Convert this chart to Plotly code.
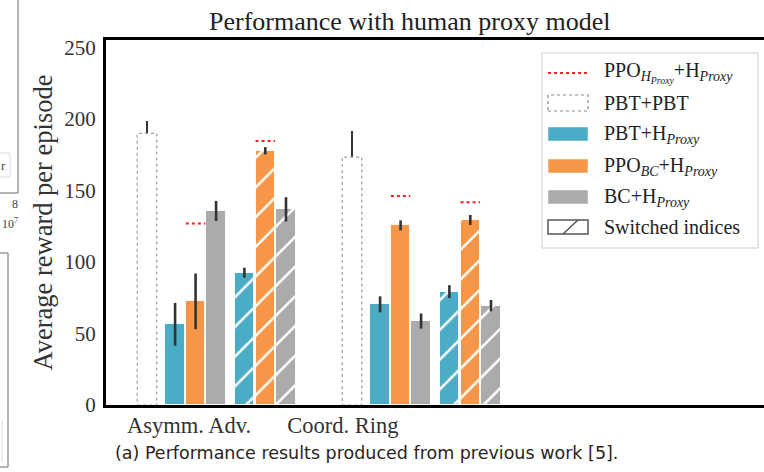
import plotly.graph_objects as go

# ---------------- data ----------------
groups = ["Asymm. Adv.", "Coord. Ring"]
pbt_pbt = [190.0, 173.4]
pbt_pbt_err = [8.5, 18.0]
pbt_h = [56.4, 70.4]
pbt_h_err = [15.0, 5.6]
ppo_bc_h = [72.5, 125.6]
ppo_bc_h_err = [19.5, 3.5]
bc_h = [135.7, 58.7]
bc_h_err = [7.0, 5.3]
pbt_h_sw = [92.5, 79.3]
pbt_h_sw_err = [3.5, 4.5]
ppo_bc_h_sw = [177.8, 129.4]
ppo_bc_h_sw_err = [2.5, 3.5]
bc_h_sw = [136.8, 69.5]
bc_h_sw_err = [8.5, 4.0]
ppo_hproxy = [127.0, 146.2]
ppo_hproxy_sw = [184.6, 141.7]
yticks = [0, 50, 100, 150, 200, 250]

# ---------------- styling / layout ----------------
W, H = 764, 472
L, R, T, B = 106, 764, 40, 405
BLUE, ORANGE, GRAY = "#4BACC6", "#F79646", "#ABABAB"
SERIF = "Liberation Serif"
TXT = "#333333"
BW = 0.95
GROUP_STEP = 10.0
GROUP_START = 2.0
OFF = {"pbt": 0.0, "blue": 1.37, "orange": 2.37, "gray": 3.37,
       "sblue": 4.75, "sorange": 5.77, "sgray": 6.78}


def pos(key):
    return [GROUP_START + i * GROUP_STEP + OFF[key] for i in range(len(groups))]


def px(xp):
    return (xp - L) / (R - L)


def py(yp):
    return (B - yp) / (B - T)


fig = go.Figure()

# PBT+PBT dotted outline bars
ox, oy = [], []
for x0, v in zip(pos("pbt"), pbt_pbt):
    ox += [x0 - BW / 2, x0 + BW / 2, x0 + BW / 2, x0 - BW / 2, x0 - BW / 2, None]
    oy += [0, 0, v, v, 0, None]
fig.add_trace(go.Scatter(x=ox, y=oy, mode="lines", fill="toself", fillcolor="white",
                         line=dict(color="#a0a0a0", width=1.2, dash="dot"),
                         showlegend=False, hoverinfo="skip"))
fig.add_trace(go.Bar(x=pos("pbt"), y=pbt_pbt, width=BW,
                     marker=dict(color="rgba(0,0,0,0)", line=dict(width=0)),
                     error_y=dict(type="data", array=pbt_pbt_err, color="#333", thickness=2.6, width=0),
                     showlegend=False))

series = [
    ("blue", pbt_h, pbt_h_err, BLUE, False),
    ("orange", ppo_bc_h, ppo_bc_h_err, ORANGE, False),
    ("gray", bc_h, bc_h_err, GRAY, False),
    ("sblue", pbt_h_sw, pbt_h_sw_err, BLUE, True),
    ("sorange", ppo_bc_h_sw, ppo_bc_h_sw_err, ORANGE, True),
    ("sgray", bc_h_sw, bc_h_sw_err, GRAY, True),
]
for key, vals, errs, col, hatch in series:
    marker = dict(color=col, line=dict(color="rgba(255,255,255,0.9)", width=1))
    if hatch:
        marker["pattern"] = dict(shape="/", bgcolor=col, fgcolor="white", size=21,
                                 solidity=0.12, fillmode="replace")
    fig.add_trace(go.Bar(x=pos(key), y=vals, width=BW, marker=marker,
                         error_y=dict(type="data", array=errs, color="#333", thickness=2.6, width=0),
                         showlegend=False))

# red dotted reference lines (PPO_HProxy + HProxy)
rx, ry = [], []
for xs, vals in ((pos("orange"), ppo_hproxy), (pos("sorange"), ppo_hproxy_sw)):
    for x0, v in zip(xs, vals):
        rx += [x0 - BW / 2, x0 + BW / 2, None]
        ry += [v, v, None]
fig.add_trace(go.Scatter(x=rx, y=ry, mode="lines",
                         line=dict(color="#FF2020", width=2, dash="dot"),
                         showlegend=False, hoverinfo="skip"))

x_span = (R - L) / 20.5
fig.update_layout(
    width=W, height=H,
    margin=dict(l=L, r=W - R, t=T, b=H - B),
    plot_bgcolor="white", paper_bgcolor="white",
    bargap=0, barmode="overlay",
    showlegend=False,
    xaxis=dict(range=[0, x_span], showgrid=False, zeroline=False,
               showline=True, linecolor="black", linewidth=3, mirror=True,
               tickmode="array", tickvals=[4.05, 11.56], ticktext=groups,
               ticks="", ticklabelstandoff=-2,
               tickfont=dict(family=SERIF, size=22.5, color=TXT)),
    yaxis=dict(range=[0, (B - T) / 1.43], showgrid=False, zeroline=False,
               showline=True, linecolor="black", linewidth=3, mirror=False,
               tickmode="array", tickvals=yticks, ticks="", ticklabelstandoff=3,
               tickfont=dict(family=SERIF, size=21, color=TXT),
               title=dict(text="Average reward per episode", standoff=5,
                          font=dict(family=SERIF, size=26.5, color=TXT))),
)

ann = []
shapes = []

# title
ann.append(dict(text="Performance with human proxy model", xref="paper", yref="paper",
                x=px(409), y=py(22), xanchor="center", yanchor="middle", showarrow=False,
                font=dict(family=SERIF, size=26, color="#222")))
# caption
ann.append(dict(text="(a) Performance results produced from previous work [5].",
                xref="paper", yref="paper", x=px(366), y=py(453), xanchor="center",
                yanchor="middle", showarrow=False,
                font=dict(family="DejaVu Sans", size=17.5, color="#2a2420")))

# legend box
shapes.append(dict(type="rect", xref="paper", yref="paper", x0=px(542), x1=px(758),
                   y0=py(248), y1=py(53), line=dict(color="#cfcfcf", width=1),
                   fillcolor="rgba(255,255,255,0.9)", layer="above"))
rows = [73, 103, 134, 166, 197, 227]
sx0, sx1 = 548, 588
# row 0: red dotted line
shapes.append(dict(type="line", xref="paper", yref="paper", x0=px(sx0), x1=px(sx1),
                   y0=py(rows[0]), y1=py(rows[0]), line=dict(color="#FF2020", width=2, dash="dot"),
                   layer="above"))
# row 1: dotted rect
shapes.append(dict(type="rect", xref="paper", yref="paper", x0=px(sx0), x1=px(sx1),
                   y0=py(rows[1] + 8), y1=py(rows[1] - 8), line=dict(color="#8a8a8a", width=1.2, dash="dot"),
                   fillcolor="white", layer="above"))
for r, col in ((rows[2], BLUE), (rows[3], ORANGE), (rows[4], GRAY)):
    shapes.append(dict(type="rect", xref="paper", yref="paper", x0=px(sx0), x1=px(sx1),
                       y0=py(r + 7), y1=py(r - 7), line=dict(color="white", width=0.5),
                       fillcolor=col, layer="above"))
# row 5: hatch swatch
shapes.append(dict(type="rect", xref="paper", yref="paper", x0=px(sx0), x1=px(sx1),
                   y0=py(rows[5] + 7), y1=py(rows[5] - 7), line=dict(color="#555", width=1.5),
                   fillcolor="white", layer="above"))
shapes.append(dict(type="line", xref="paper", yref="paper", x0=px(563), x1=px(578),
                   y0=py(rows[5] + 7), y1=py(rows[5] - 7), line=dict(color="#555", width=1.5),
                   layer="above"))

labels = [
    "PPO<sub><i>H</i><sub><i>Proxy</i></sub></sub>+H<sub><i>Proxy</i></sub>",
    "PBT+PBT",
    "PBT+H<sub><i>Proxy</i></sub>",
    "PPO<sub><i>BC</i></sub>+H<sub><i>Proxy</i></sub>",
    "BC+H<sub><i>Proxy</i></sub>",
    "Switched indices",
]
for r, t in zip(rows, labels):
    ann.append(dict(text=t, xref="paper", yref="paper", x=px(602), y=py(r),
                    xanchor="left", yanchor="middle", showarrow=False,
                    font=dict(family=SERIF, size=20, color="#222")))

# fragments of the neighbouring figure at the left edge
frag = dict(color="#8c8c8c", width=1.3)
shapes += [
    dict(type="line", xref="paper", yref="paper", x0=px(18), x1=px(18), y0=py(0), y1=py(193), line=frag),
    dict(type="line", xref="paper", yref="paper", x0=px(0), x1=px(18), y0=py(193), y1=py(193), line=frag),
    dict(type="rect", xref="paper", yref="paper", x0=px(-4), x1=px(10), y0=py(177), y1=py(153),
         line=dict(color="#dcdcdc", width=1)),
    dict(type="line", xref="paper", yref="paper", x0=px(8), x1=px(8), y0=py(253), y1=py(467), line=frag),
    dict(type="line", xref="paper", yref="paper", x0=px(0), x1=px(8), y0=py(253), y1=py(253), line=frag),
    dict(type="line", xref="paper", yref="paper", x0=px(0), x1=px(8), y0=py(467), y1=py(467), line=frag),
    dict(type="line", xref="paper", yref="paper", x0=px(2), x1=px(2), y0=py(420), y1=py(462),
         line=dict(color="#dcdcdc", width=1)),
]
ann.append(dict(text="r", xref="paper", yref="paper", x=px(3), y=py(165), xanchor="center",
                yanchor="middle", showarrow=False, font=dict(family=SERIF, size=13, color="#444")))
ann.append(dict(text="8", xref="paper", yref="paper", x=px(15), y=py(204), xanchor="center",
                yanchor="middle", showarrow=False, font=dict(family=SERIF, size=12, color="#444")))
ann.append(dict(text="10<sup>7</sup>", xref="paper", yref="paper", x=px(20), y=py(224), xanchor="right",
                yanchor="middle", showarrow=False, font=dict(family=SERIF, size=12, color="#444")))

fig.update_layout(annotations=ann, shapes=shapes)
fig.write_html("out.html")
